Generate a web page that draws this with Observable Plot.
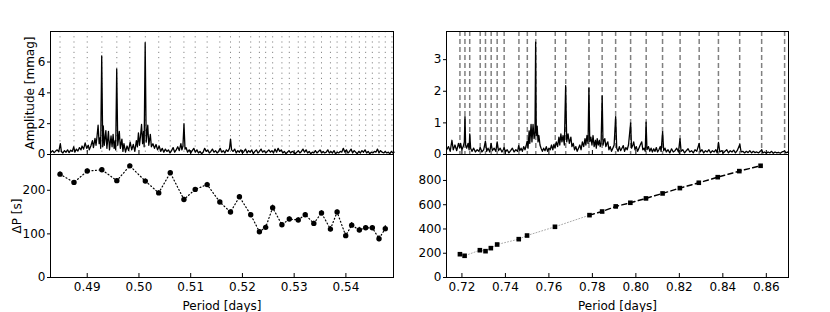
<!DOCTYPE html>
<html><head><meta charset="utf-8">
<script src="https://cdn.jsdelivr.net/npm/d3@7"></script>
<script src="https://cdn.jsdelivr.net/npm/@observablehq/plot@0.6"></script>
<style>
body{margin:0;background:#fff;}
#fig{position:relative;width:830px;height:312px;background:#fff;font-family:"DejaVu Sans",sans-serif;}
#fig svg{position:absolute;overflow:visible;}
</style></head><body><div id="fig"></div>
<script>
// ---------- Left column: period spacings ----------
const periodsL = [0.48474,0.48744,0.49000,0.49283,0.49572,0.49823,0.50123,0.50382,0.50605,0.50869,0.51087,0.51318,0.51563,0.51769,0.51942,0.52160,0.52328,0.52449,0.52584,0.52763,0.52906,0.53079,0.53214,0.53380,0.53528,0.53701,0.53830,0.53996,0.54112,0.54260,0.54382,0.54511,0.54640,0.54761];
const deltaPL = [237,218,244,247,222,256,221,194,240,179,202,213,173,150,185,144,105,115,160,121,134,132,144,124,148,111,150,96,120,109,114,114,89,112];
const errL = [5,4,5,4,5,4,5,5,4,5,4,5,4,5,5,4,5,5,6,5,5,5,5,5,5,6,5,6,6,6,5,5,7,7];
const modeLinesL = [0.48474,0.48744,0.49000,0.49283,0.49572,0.49823,0.50123,0.50382,0.50605,0.50869,0.51087,0.51318,0.51563,0.51769,0.51942,0.52160,0.52328,0.52449,0.52584,0.52763,0.52906,0.53079,0.53214,0.53380,0.53528,0.53701,0.53830,0.53996,0.54112,0.54260,0.54382,0.54511,0.54640,0.54761,0.54890];
const xTicksL = [0.49,0.50,0.51,0.52,0.53,0.54];
const ampTicksL = [0,2,4,6];
const dpTicksL = [0,100,200];
// amplitude spectrum, [period (d), amplitude (mmag)]
const specL = [[0.4830,0.15],[0.4833,0.25],[0.4836,0.12],[0.4839,0.22],[0.4842,0.30],[0.4845,0.18],[0.4848,0.70],[0.4850,0.20],[0.4853,0.10],[0.4856,0.25],[0.4859,0.15],[0.4862,0.30],[0.4865,0.12],[0.4868,0.28],[0.4871,0.20],[0.4874,0.50],[0.4876,0.15],[0.4879,0.35],[0.4882,0.22],[0.4885,0.45],[0.4888,0.30],[0.4890,0.55],[0.4893,0.35],[0.4896,0.75],[0.4899,0.40],[0.4902,0.60],[0.4904,0.30],[0.4907,0.55],[0.4910,0.90],[0.4912,0.45],[0.4915,1.05],[0.4917,0.60],[0.4919,1.20],[0.4921,1.90],[0.4923,0.70],[0.4925,1.10],[0.4926,0.40],[0.4928,6.40],[0.4930,0.50],[0.4931,1.85],[0.4933,0.60],[0.4936,1.55],[0.4938,0.40],[0.4941,1.50],[0.4943,0.30],[0.4946,1.20],[0.4948,0.50],[0.4950,1.30],[0.4952,0.40],[0.4954,0.90],[0.4955,0.30],[0.4957,5.55],[0.4959,0.60],[0.4962,1.50],[0.4964,0.40],[0.4967,1.00],[0.4969,0.20],[0.4971,0.70],[0.4974,0.15],[0.4977,0.55],[0.4980,0.25],[0.4983,0.80],[0.4986,0.30],[0.4989,0.65],[0.4992,0.20],[0.4995,0.90],[0.4997,0.50],[0.4999,1.40],[0.5001,0.60],[0.5003,1.20],[0.5005,1.95],[0.5007,0.70],[0.5009,1.50],[0.5010,0.50],[0.5012,7.25],[0.5014,0.80],[0.5017,1.90],[0.5019,0.60],[0.5022,1.30],[0.5024,0.50],[0.5027,0.70],[0.5030,0.40],[0.5033,0.65],[0.5036,0.30],[0.5039,0.55],[0.5042,0.20],[0.5045,0.40],[0.5048,0.15],[0.5051,0.35],[0.5054,0.20],[0.5057,0.30],[0.5060,0.10],[0.5063,0.25],[0.5066,0.45],[0.5069,0.15],[0.5072,0.30],[0.5075,0.50],[0.5078,0.25],[0.5081,0.70],[0.5083,0.30],[0.5085,0.55],[0.5087,2.00],[0.5089,0.35],[0.5091,0.45],[0.5094,0.15],[0.5097,0.30],[0.5100,0.10],[0.5103,0.25],[0.5106,0.40],[0.5109,0.15],[0.5112,0.30],[0.5115,0.10],[0.5118,0.20],[0.5121,0.05],[0.5124,0.15],[0.5127,0.40],[0.5130,0.20],[0.5133,0.30],[0.5136,0.10],[0.5139,0.20],[0.5142,0.35],[0.5145,0.15],[0.5148,0.25],[0.5151,0.10],[0.5154,0.20],[0.5157,0.40],[0.5160,0.15],[0.5163,0.25],[0.5166,0.10],[0.5169,0.30],[0.5172,0.20],[0.5175,0.40],[0.5177,1.00],[0.5179,0.30],[0.5182,0.20],[0.5185,0.35],[0.5188,0.10],[0.5191,0.25],[0.5194,0.15],[0.5197,0.30],[0.5200,0.10],[0.5203,0.20],[0.5206,0.35],[0.5209,0.10],[0.5212,0.25],[0.5215,0.15],[0.5218,0.30],[0.5221,0.05],[0.5224,0.20],[0.5227,0.30],[0.5230,0.10],[0.5233,0.20],[0.5236,0.35],[0.5239,0.15],[0.5242,0.25],[0.5245,0.10],[0.5248,0.20],[0.5251,0.30],[0.5254,0.15],[0.5257,0.25],[0.5260,0.10],[0.5263,0.35],[0.5266,0.15],[0.5269,0.40],[0.5272,0.20],[0.5275,0.30],[0.5278,0.10],[0.5281,0.20],[0.5284,0.05],[0.5287,0.15],[0.5290,0.25],[0.5293,0.10],[0.5296,0.20],[0.5299,0.15],[0.5302,0.05],[0.5305,0.15],[0.5308,0.25],[0.5311,0.10],[0.5314,0.20],[0.5317,0.35],[0.5320,0.15],[0.5323,0.30],[0.5326,0.10],[0.5329,0.20],[0.5332,0.05],[0.5335,0.15],[0.5338,0.10],[0.5341,0.25],[0.5344,0.10],[0.5347,0.20],[0.5350,0.30],[0.5353,0.10],[0.5356,0.20],[0.5359,0.10],[0.5362,0.15],[0.5365,0.30],[0.5368,0.10],[0.5371,0.20],[0.5374,0.10],[0.5377,0.25],[0.5380,0.05],[0.5383,0.15],[0.5386,0.10],[0.5389,0.20],[0.5392,0.15],[0.5395,0.40],[0.5398,0.15],[0.5401,0.30],[0.5404,0.10],[0.5407,0.20],[0.5410,0.35],[0.5413,0.10],[0.5416,0.25],[0.5419,0.15],[0.5422,0.05],[0.5425,0.20],[0.5428,0.10],[0.5431,0.25],[0.5434,0.15],[0.5437,0.30],[0.5440,0.10],[0.5443,0.20],[0.5446,0.05],[0.5449,0.15],[0.5452,0.10],[0.5455,0.20],[0.5458,0.15],[0.5461,0.35],[0.5464,0.10],[0.5467,0.25],[0.5470,0.15],[0.5473,0.10],[0.5476,0.20],[0.5479,0.10],[0.5482,0.15],[0.5485,0.05],[0.5488,0.20],[0.5491,0.10],[0.5493,0.15]];

// ---------- Right column: period spacings ----------
const periodsR = [0.71908,0.72122,0.72825,0.73085,0.73329,0.73620,0.74613,0.74995,0.76278,0.77867,0.78448,0.79074,0.79746,0.80464,0.81228,0.82023,0.82894,0.83765,0.84758,0.85736];
const deltaPR = [192,179,225,217,242,272,316,346,418,514,544,586,616,652,693,737,781,827,877,921];
const errR = [9,8,9,8,9,9,9,9,9,10,10,10,10,10,10,10,11,11,11,11];
const splitR = 9; // points 0..9 joined by dotted grey, 9..19 by black dashes
const modeLinesR = [0.71908,0.72138,0.72358,0.72840,0.73083,0.73345,0.73620,0.73942,0.74621,0.75007,0.75397,0.76292,0.76774,0.77843,0.78449,0.79069,0.79758,0.80474,0.81227,0.82034,0.82912,0.83797,0.84775,0.85785,0.86841];
const xTicksR = [0.72,0.74,0.76,0.78,0.80,0.82,0.84,0.86];
const ampTicksR = [0,1,2,3];
const dpTicksR = [0,200,400,600,800];
const specR = [[0.7130,0.15],[0.7138,0.25],[0.7146,0.10],[0.7154,0.45],[0.7160,0.15],[0.7168,0.30],[0.7176,0.12],[0.7184,0.35],[0.7190,0.20],[0.7194,0.35],[0.7200,0.15],[0.7206,0.25],[0.7211,0.40],[0.7214,1.20],[0.7217,0.30],[0.7222,0.20],[0.7228,0.35],[0.7233,0.15],[0.7236,0.65],[0.7240,0.20],[0.7246,0.10],[0.7254,0.20],[0.7262,0.08],[0.7270,0.15],[0.7278,0.10],[0.7284,0.22],[0.7292,0.08],[0.7300,0.15],[0.7308,0.42],[0.7314,0.10],[0.7320,0.20],[0.7328,0.08],[0.7334,0.35],[0.7340,0.12],[0.7348,0.20],[0.7356,0.10],[0.7362,0.40],[0.7368,0.12],[0.7376,0.20],[0.7384,0.08],[0.7390,0.15],[0.7394,0.22],[0.7400,0.08],[0.7408,0.15],[0.7416,0.05],[0.7424,0.12],[0.7432,0.20],[0.7440,0.08],[0.7448,0.15],[0.7456,0.10],[0.7461,0.28],[0.7466,0.12],[0.7472,0.20],[0.7478,0.10],[0.7484,0.25],[0.7490,0.15],[0.7496,0.30],[0.7500,0.42],[0.7504,0.20],[0.7509,0.75],[0.7512,0.35],[0.7518,0.95],[0.7522,0.40],[0.7527,0.95],[0.7532,0.50],[0.7536,0.70],[0.7539,3.55],[0.7542,0.60],[0.7546,0.90],[0.7550,0.40],[0.7554,0.60],[0.7559,0.30],[0.7564,0.20],[0.7570,0.10],[0.7576,0.20],[0.7582,0.12],[0.7588,0.25],[0.7594,0.10],[0.7600,0.20],[0.7606,0.15],[0.7612,0.30],[0.7618,0.15],[0.7623,0.32],[0.7628,0.20],[0.7634,0.40],[0.7640,0.25],[0.7646,0.55],[0.7650,0.30],[0.7655,0.65],[0.7660,0.40],[0.7665,0.60],[0.7671,0.30],[0.7677,2.18],[0.7682,0.40],[0.7688,0.65],[0.7694,0.35],[0.7701,0.55],[0.7706,0.25],[0.7712,0.35],[0.7718,0.15],[0.7724,0.25],[0.7730,0.10],[0.7736,0.20],[0.7742,0.30],[0.7748,0.15],[0.7754,0.40],[0.7760,0.25],[0.7766,0.50],[0.7770,0.30],[0.7775,0.60],[0.7780,0.35],[0.7784,2.10],[0.7788,0.40],[0.7793,0.55],[0.7798,0.30],[0.7803,0.60],[0.7808,0.25],[0.7814,0.45],[0.7818,0.20],[0.7822,0.50],[0.7827,0.30],[0.7832,0.45],[0.7836,0.25],[0.7840,0.35],[0.7845,1.85],[0.7849,0.30],[0.7853,0.45],[0.7857,0.50],[0.7862,0.25],[0.7867,0.35],[0.7871,0.40],[0.7876,0.15],[0.7882,0.25],[0.7888,0.10],[0.7894,0.20],[0.7900,0.30],[0.7907,1.20],[0.7912,0.20],[0.7918,0.10],[0.7924,0.25],[0.7930,0.12],[0.7936,0.20],[0.7942,0.28],[0.7948,0.10],[0.7954,0.22],[0.7960,0.15],[0.7966,0.30],[0.7976,1.00],[0.7980,0.20],[0.7986,0.30],[0.7990,0.40],[0.7996,0.15],[0.8002,0.25],[0.8008,0.10],[0.8014,0.20],[0.8020,0.30],[0.8027,0.40],[0.8032,0.15],[0.8038,0.20],[0.8043,0.10],[0.8047,1.02],[0.8051,0.15],[0.8058,0.25],[0.8064,0.10],[0.8070,0.20],[0.8076,0.08],[0.8082,0.18],[0.8088,0.10],[0.8094,0.22],[0.8100,0.08],[0.8106,0.15],[0.8112,0.25],[0.8116,0.10],[0.8123,0.72],[0.8128,0.12],[0.8134,0.20],[0.8140,0.08],[0.8148,0.15],[0.8156,0.05],[0.8164,0.18],[0.8172,0.08],[0.8180,0.12],[0.8188,0.20],[0.8196,0.08],[0.8203,0.50],[0.8208,0.10],[0.8216,0.15],[0.8224,0.05],[0.8232,0.12],[0.8240,0.18],[0.8248,0.08],[0.8256,0.12],[0.8264,0.05],[0.8272,0.15],[0.8280,0.10],[0.8291,0.35],[0.8296,0.08],[0.8304,0.15],[0.8312,0.05],[0.8320,0.12],[0.8328,0.08],[0.8336,0.15],[0.8344,0.05],[0.8352,0.12],[0.8360,0.08],[0.8368,0.15],[0.8374,0.05],[0.8380,0.38],[0.8386,0.08],[0.8394,0.12],[0.8402,0.05],[0.8410,0.10],[0.8418,0.15],[0.8426,0.05],[0.8434,0.12],[0.8442,0.08],[0.8450,0.14],[0.8458,0.05],[0.8466,0.12],[0.8478,0.32],[0.8484,0.08],[0.8492,0.10],[0.8500,0.05],[0.8508,0.10],[0.8516,0.06],[0.8524,0.12],[0.8532,0.05],[0.8540,0.10],[0.8548,0.06],[0.8556,0.08],[0.8564,0.05],[0.8572,0.10],[0.8579,0.15],[0.8584,0.05],[0.8592,0.08],[0.8600,0.04],[0.8608,0.08],[0.8616,0.05],[0.8624,0.10],[0.8632,0.04],[0.8640,0.08],[0.8648,0.05],[0.8656,0.07],[0.8664,0.04],[0.8672,0.08],[0.8680,0.10],[0.8684,0.12],[0.8690,0.05],[0.8698,0.08],[0.8702,0.05]];

// ---------- drawing ----------
const style = {fontFamily: "'DejaVu Sans', sans-serif", fontSize: "12px", background: "transparent", overflow: "visible", color: "black"};
const fig = document.getElementById("fig");
function place(svg, left, top) { svg.style.left = left + "px"; svg.style.top = top + "px"; fig.appendChild(svg); }
const fmt2 = d3.format(".2f");
const fmtI = d3.format("d");
const idxL = d3.range(periodsL.length);
const idxR = d3.range(periodsR.length);

const xDomL = [0.4829, 0.5492], xDomR = [0.7129, 0.8702];

// left top
place(Plot.plot({
  width: 400, height: 160, marginLeft: 50, marginRight: 7, marginTop: 31, marginBottom: 6,
  style, x: {domain: xDomL}, y: {domain: [0, 7.98]},
  marks: [
    Plot.ruleX(modeLinesL, {stroke: "#888", strokeDasharray: "1.2,4", strokeWidth: 1}),
    Plot.line(specL, {x: d => d[0], y: d => d[1], stroke: "black", strokeWidth: 1.3}),
    Plot.axisY({ticks: ampTicksL, tickFormat: fmtI, fontSize: 12, tickSize: 3, tickPadding: 2, label: "Amplitude [mmag]", labelArrow: "none", labelAnchor: "center", labelOffset: 25}),
    Plot.axisX({ticks: xTicksL, tickSize: -4, tickFormat: () => "", label: null}),
    Plot.frame({stroke: "black"})
  ]
}), 0, 0);

// left bottom
place(Plot.plot({
  width: 400, height: 158, marginLeft: 50, marginRight: 7, marginTop: 0, marginBottom: 35,
  style, x: {domain: xDomL}, y: {domain: [0, 282]},
  marks: [
    Plot.line(idxL, {x: i => periodsL[i], y: i => deltaPL[i], stroke: "black", strokeWidth: 1.2, strokeDasharray: "1,2.5"}),
    Plot.ruleX(idxL, {x: i => periodsL[i], y1: i => deltaPL[i] - errL[i], y2: i => deltaPL[i] + errL[i], stroke: "black", strokeWidth: 1}),
    Plot.dot(idxL, {x: i => periodsL[i], y: i => deltaPL[i], r: 2.7, fill: "black", stroke: "none"}),
    Plot.axisY({ticks: dpTicksL, tickFormat: fmtI, fontSize: 12, tickSize: 3, tickPadding: 2, label: "ΔP [s]", labelArrow: "none", labelAnchor: "center", labelOffset: 38}),
    Plot.axisX({ticks: xTicksL, tickSize: -4, tickPadding: 9, tickFormat: fmt2, fontSize: 12, label: "Period [days]", labelArrow: "none", labelAnchor: "center", labelOffset: 32}),
    Plot.frame({stroke: "black"})
  ]
}), 0, 154);

// right top
place(Plot.plot({
  width: 400, height: 160, marginLeft: 46, marginRight: 12, marginTop: 31, marginBottom: 6,
  style, x: {domain: xDomR}, y: {domain: [0, 3.89]},
  marks: [
    Plot.ruleX(modeLinesR, {stroke: "#808080", strokeDasharray: "5,3", strokeWidth: 1.5}),
    Plot.line(specR, {x: d => d[0], y: d => d[1], stroke: "black", strokeWidth: 1.3}),
    Plot.axisY({ticks: ampTicksR, tickFormat: fmtI, fontSize: 12, tickSize: 3, tickPadding: 2, label: null}),
    Plot.axisX({ticks: xTicksR, tickSize: -4, tickFormat: () => "", label: null}),
    Plot.frame({stroke: "black"})
  ]
}), 400, 0);

// right bottom
place(Plot.plot({
  width: 400, height: 158, marginLeft: 46, marginRight: 12, marginTop: 0, marginBottom: 35,
  style, x: {domain: xDomR}, y: {domain: [0, 1014]},
  marks: [
    Plot.line(idxR.filter(i => i <= splitR), {x: i => periodsR[i], y: i => deltaPR[i], stroke: "#aaa", strokeWidth: 1, strokeDasharray: "1,2"}),
    Plot.line(idxR.filter(i => i >= splitR), {x: i => periodsR[i], y: i => deltaPR[i], stroke: "black", strokeWidth: 1.5, strokeDasharray: "5,3.5"}),
    Plot.ruleX(idxR, {x: i => periodsR[i], y1: i => deltaPR[i] - errR[i], y2: i => deltaPR[i] + errR[i], stroke: "black", strokeWidth: 1}),
    Plot.dot(idxR, {x: i => periodsR[i], y: i => deltaPR[i], r: 2.6, symbol: "square", fill: "black", stroke: "none"}),
    Plot.axisY({ticks: dpTicksR, tickFormat: fmtI, fontSize: 12, tickSize: 3, tickPadding: 2, label: null}),
    Plot.axisX({ticks: xTicksR, tickSize: -4, tickPadding: 9, tickFormat: fmt2, fontSize: 12, label: "Period [days]", labelArrow: "none", labelAnchor: "center", labelOffset: 32}),
    Plot.frame({stroke: "black"})
  ]
}), 400, 154);
</script></body></html>
